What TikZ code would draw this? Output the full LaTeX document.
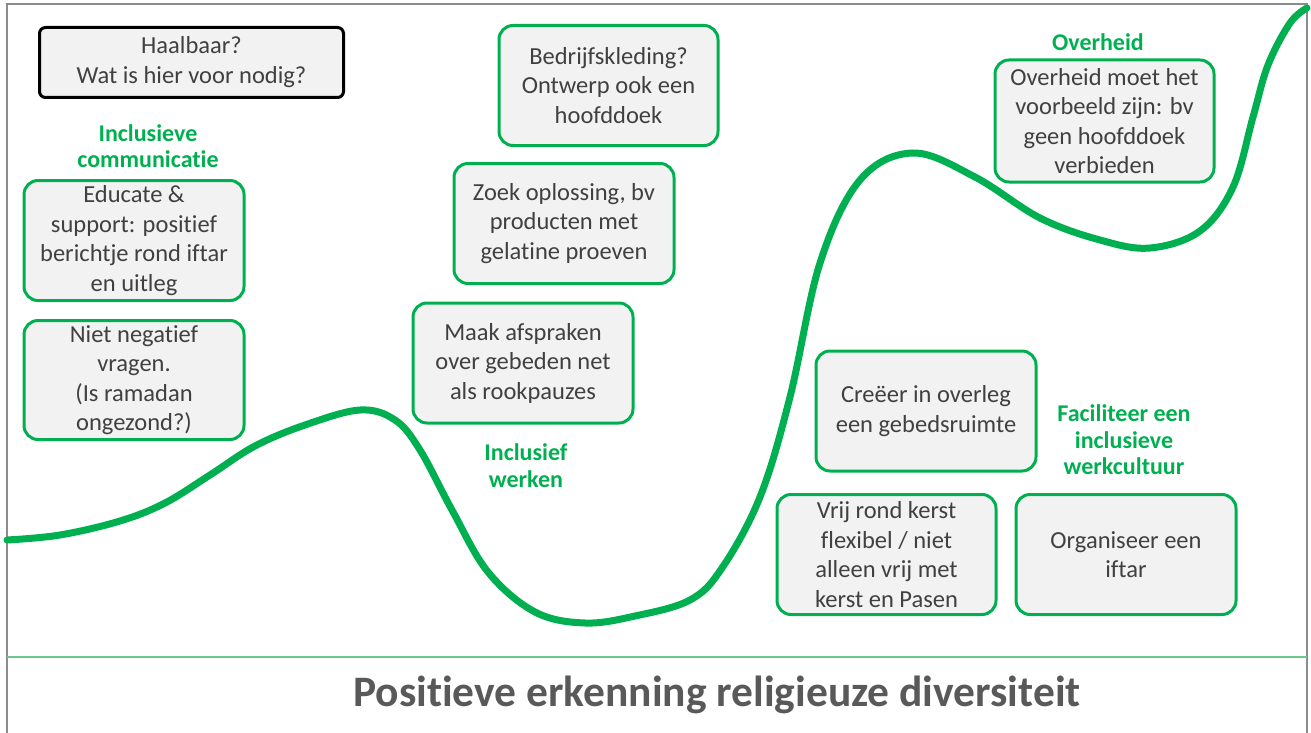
\documentclass[tikz,border=0pt]{standalone}
\usepackage{fontspec}
\setmainfont{Carlito}[Ligatures={TeX,NoCommon}]
\definecolor{gGreen}{HTML}{00B050}
\definecolor{lGreen}{HTML}{6CC98B}
\definecolor{boxGray}{HTML}{F2F2F2}
\definecolor{txtGray}{HTML}{404040}
\definecolor{titleGray}{HTML}{595959}
\definecolor{frameGray}{HTML}{8C8C8C}
\tikzset{
  gbox/.style={draw=gGreen, line width=3pt, fill=boxGray, rounded corners=14pt,
    text=txtGray, align=center, inner sep=0pt,
    font=\fontsize{24.5}{29.5}\selectfont},
  bbox/.style={draw=black, line width=3pt, fill=boxGray, rounded corners=6pt,
    text=txtGray, align=center, inner sep=0pt,
    font=\fontsize{24.5}{30}\selectfont},
  glabel/.style={text=gGreen, align=center, inner sep=0pt,
    font=\bfseries\fontsize{24}{26.5}\selectfont},
  wave/.style={draw=gGreen, line width=7pt, line cap=round},
}
\begin{document}
\begin{tikzpicture}[x=1pt,y=-1pt]
\useasboundingbox (0,0) rectangle (1311,733);
% frame
\draw[frameGray, line width=2pt] (7,740) -- (7,4) -- (1307,4) -- (1307,740);
\draw[lGreen, line width=2pt] (7,657) -- (1307,657);
% curve
\draw[wave] plot[smooth, tension=0.6] coordinates {
 (7,540) (60,535) (120,521) (165,503) (210,475) (255,446) (305,425) (360,410)
 (395,420) (420,450) (452,510) (488,572) (535,612) (585,623) (635,616)
 (690,600) (722,568) (760,497) (790,397) (820,263) (860,180) (913,153) (975,177)
 (1040,218) (1100,240) (1150,248) (1200,231) (1233,187) (1253,117)
 (1268,65) (1290,23) (1307,8)};
% boxes
\node[bbox, minimum width=304pt, minimum height=70pt] (haal) at (191.5,62.5)
  {Haalbaar?\\Wat is hier voor nodig?};
\node[glabel] (lcomm) at (148,146) {Inclusieve\\communicatie};
\node[gbox, minimum width=220pt, minimum height=120pt] (educ) at (134,240.5)
  {Educate \&\\support: positief\\berichtje rond iftar\\en uitleg};
\node[gbox, minimum width=220pt, minimum height=119pt] (niet) at (134,380)
  {Niet negatief\\vragen.\\(Is ramadan\\ongezond?)};
\node[gbox, minimum width=219pt, minimum height=120pt] (bedr) at (608.5,85.5)
  {Bedrijfskleding?\\Ontwerp ook een\\hoofddoek};
\node[gbox, minimum width=220pt, minimum height=120pt] (zoek) at (564,223.5)
  {Zoek oplossing, bv\\producten met\\gelatine proeven};
\node[gbox, minimum width=220pt, minimum height=120pt] (maak) at (523,363)
  {Maak afspraken\\over gebeden net\\als rookpauzes};
\node[glabel] (lwerk) at (526,465.5) {Inclusief\\werken};
\node[glabel] (lover) at (1098,42) {Overheid};
\node[gbox, minimum width=219pt, minimum height=122pt] (over) at (1104.5,121)
  {Overheid moet het\\voorbeeld zijn: bv\\geen hoofddoek\\verbieden};
\node[gbox, minimum width=220pt, minimum height=120pt] (creer) at (926,411)
  {Creëer in overleg\\een gebedsruimte};
\node[glabel] (lfac) at (1124,440) {Faciliteer een\\inclusieve\\werkcultuur};
\node[gbox, minimum width=219pt, minimum height=120pt] (vrij) at (886.5,554.5)
  {Vrij rond kerst\\flexibel / niet\\alleen vrij met\\kerst en Pasen};
\node[gbox, minimum width=220pt, minimum height=120pt] (org) at (1126,554.5)
  {Organiseer een\\iftar};
% title
\node[text=titleGray, font=\bfseries\fontsize{43.5}{50}\selectfont, inner sep=0pt] (title) at (717,695)
  {Positieve erkenning religieuze diversiteit};
\end{tikzpicture}
\end{document}
